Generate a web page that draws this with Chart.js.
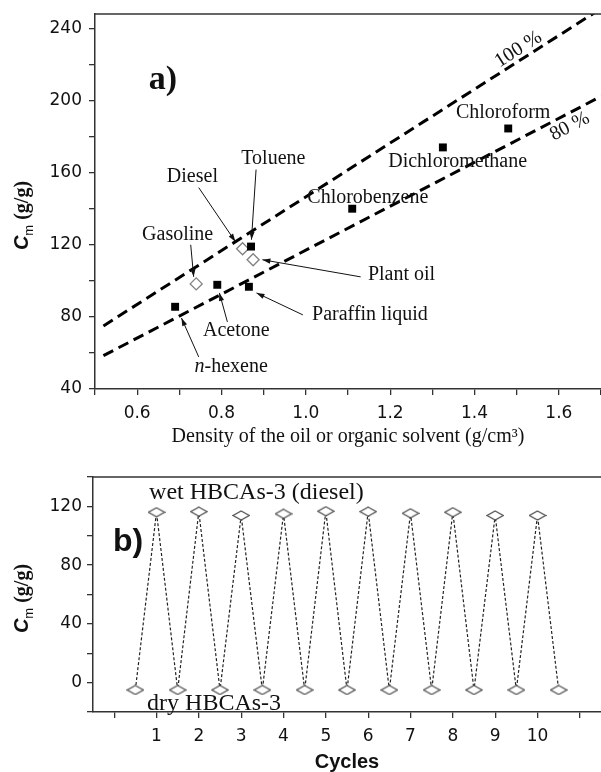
<!DOCTYPE html>
<html>
<head>
<meta charset="utf-8">
<script src="https://cdn.jsdelivr.net/npm/chart.js@4.4.0/dist/chart.umd.min.js"></script>
<style>
html,body{margin:0;padding:0;background:#fff;}
#wrap{position:relative;width:601px;height:772px;}
canvas{position:absolute;left:0;}
#top{top:0;}
#bottom{top:450px;}
</style>
</head>
<body>
<div id="wrap">
<canvas id="top" width="601" height="450"></canvas>
<canvas id="bottom" width="601" height="322"></canvas>
</div>
<script>
// ---- panel a) data
const solventNames = ['n-hexene', 'Acetone', 'Paraffin liquid', 'Toluene', 'Chlorobenzene', 'Dichloromethane', 'Chloroform'];
const solventDensity = [0.69, 0.79, 0.865, 0.87, 1.11, 1.325, 1.48];
const solventCm = [85.6, 97.8, 96.7, 119, 140, 174, 184.5];

const oilNames = ['Gasoline', 'Diesel', 'Plant oil'];
const oilDensity = [0.74, 0.85, 0.875];
const oilCm = [98.3, 117.8, 111.7];

// theoretical lines (end points)
const line100Density = [0.52, 1.70];
const line100Cm = [75, 251];
const line80Density = [0.52, 1.70];
const line80Cm = [58.5, 202.3];

const densityTicks = [0.5, 0.6, 0.7, 0.8, 0.9, 1.0, 1.1, 1.2, 1.3, 1.4, 1.5, 1.6, 1.7];
const densityTickLabels = ['', '0.6', '', '0.8', '', '1.0', '', '1.2', '', '1.4', '', '1.6', ''];
const cmTicksA = [40, 60, 80, 100, 120, 140, 160, 180, 200, 220, 240];
const cmTickLabelsA = ['40', '', '80', '', '120', '', '160', '', '200', '', '240'];

// ---- panel b) data
const cycleX = [0.5, 1, 1.5, 2, 2.5, 3, 3.5, 4, 4.5, 5, 5.5, 6, 6.5, 7, 7.5, 8, 8.5, 9, 9.5, 10, 10.5];
const cycleCm = [-5, 116, -5, 116.4, -5, 113.8, -5, 114.9, -5, 116.7, -5, 116.4, -5, 115.3, -5, 116, -5, 113.8, -5, 113.8, -5];

const cycleTicks = [0, 1, 2, 3, 4, 5, 6, 7, 8, 9, 10, 11];
const cycleTickLabels = ['', '1', '2', '3', '4', '5', '6', '7', '8', '9', '10', ''];
const cmTicksB = [-20, 0, 20, 40, 60, 80, 100, 120, 140];
const cmTickLabelsB = ['', '0', '', '40', '', '80', '', '120', ''];

// annotation labels (data coords) and arrows
const annotA = [
  {text: 'Toluene', at: [0.923, 167.8], from: [0.882, 161.7], to: [0.871, 122.8]},
  {text: 'Diesel', at: [0.731, 157.8], from: [0.746, 151.7], to: [0.833, 121.7]},
  {text: 'Chlorobenzene', at: [1.147, 146.1]},
  {text: 'Gasoline', at: [0.696, 125.6], from: [0.727, 120], to: [0.734, 102.2]},
  {text: 'Plant oil', at: [1.227, 103.3], from: [1.13, 102.2], to: [0.897, 111.7]},
  {text: 'Paraffin liquid', at: [1.152, 81.1], from: [0.993, 81.1], to: [0.883, 93.3]},
  {text: 'Acetone', at: [0.835, 72.2], from: [0.814, 77.2], to: [0.795, 93.3]},
  {text: '-hexene', italic: 'n', at: [0.823, 52.2], from: [0.746, 57.8], to: [0.705, 79.4]},
  {text: 'Dichloromethane', at: [1.36, 166.1]},
  {text: 'Chloroform', at: [1.468, 193.3]}
];

const SERIF = "'Liberation Serif', 'Times New Roman', serif";
const SANS = "'Liberation Sans', Arial, sans-serif";
const INK = '#111';

Chart.defaults.font.family = "'DejaVu Sans', sans-serif";
Chart.defaults.color = INK;

function arrow(ctx, x1, y1, x2, y2) {
  ctx.beginPath();
  ctx.moveTo(x1, y1);
  ctx.lineTo(x2, y2);
  ctx.stroke();
  const a = Math.atan2(y2 - y1, x2 - x1);
  const len = 8, w = 2.6;
  ctx.beginPath();
  ctx.moveTo(x2, y2);
  ctx.lineTo(x2 - len * Math.cos(a) + w * Math.sin(a), y2 - len * Math.sin(a) - w * Math.cos(a));
  ctx.lineTo(x2 - len * Math.cos(a) - w * Math.sin(a), y2 - len * Math.sin(a) + w * Math.cos(a));
  ctx.closePath();
  ctx.fill();
}

function yTitle(ctx, x, y) {
  ctx.save();
  ctx.translate(x, y);
  ctx.rotate(-Math.PI / 2);
  const f1 = "bold italic 20px " + SANS;
  const f2 = "13px " + SANS;
  const f3 = "bold 20px " + SERIF;
  ctx.font = f1; const w1 = ctx.measureText('C').width;
  ctx.font = f2; const w2 = ctx.measureText('m').width;
  ctx.font = f3; const w3 = ctx.measureText(' (g/g)').width;
  let cx = -(w1 + w2 + w3) / 2;
  ctx.fillStyle = INK;
  ctx.textAlign = 'left';
  ctx.textBaseline = 'alphabetic';
  ctx.font = f1; ctx.fillText('C', cx, 7); cx += w1;
  ctx.font = f2; ctx.fillText('m', cx, 12); cx += w2;
  ctx.font = f3; ctx.fillText(' (g/g)', cx, 7);
  ctx.restore();
}

// top border of the frame (the right side is cut off in the figure)
const framePlugin = {
  id: 'frame',
  afterDraw(chart) {
    const {ctx, chartArea: a} = chart;
    ctx.save();
    ctx.strokeStyle = '#333';
    ctx.lineWidth = 1.5;
    ctx.beginPath();
    ctx.moveTo(a.left, a.top);
    ctx.lineTo(a.right, a.top);
    ctx.stroke();
    ctx.restore();
  }
};

function axisSet(values, labels, pad, size) {
  return {
    type: 'linear',
    afterBuildTicks: s => { s.ticks = values.map(v => ({value: v})); },
    afterFit: s => {
      if (s.isHorizontal()) s.height = size; else s.width = size;
      s.paddingLeft = s.paddingRight = s.paddingTop = s.paddingBottom = 0;
    },
    ticks: {
      autoSkip: false,
      maxRotation: 0,
      padding: pad,
      font: {size: 17},
      color: INK,
      callback: (v, i) => labels[i]
    },
    grid: {drawOnChartArea: false, tickLength: 6, color: '#333', lineWidth: 1.3},
    border: {color: '#333', width: 1.5}
  };
}

// ---------- panel a)
const xA = axisSet(densityTicks, densityTickLabels, 8, 61);
xA.min = 0.5; xA.max = 1.7;
const yA = axisSet(cmTicksA, cmTickLabelsA, 7, 95);
yA.min = 40; yA.max = 248;

const notesA = {
  id: 'notesA',
  afterDatasetsDraw(chart) {
    const {ctx, scales: {x, y}} = chart;
    ctx.save();
    ctx.fillStyle = INK;
    ctx.strokeStyle = INK;
    ctx.lineWidth = 1;
    ctx.textBaseline = 'middle';
    annotA.forEach(n => {
      const px = x.getPixelForValue(n.at[0]);
      const py = y.getPixelForValue(n.at[1]);
      if (n.italic) {
        ctx.font = "italic 20px " + SERIF;
        const wi = ctx.measureText(n.italic).width;
        ctx.font = "20px " + SERIF;
        const wt = ctx.measureText(n.text).width;
        ctx.textAlign = 'left';
        ctx.font = "italic 20px " + SERIF;
        ctx.fillText(n.italic, px - (wi + wt) / 2, py);
        ctx.font = "20px " + SERIF;
        ctx.fillText(n.text, px - (wi + wt) / 2 + wi, py);
      } else {
        ctx.font = "20px " + SERIF;
        ctx.textAlign = 'center';
        ctx.fillText(n.text, px, py);
      }
      if (n.from) {
        arrow(ctx, x.getPixelForValue(n.from[0]), y.getPixelForValue(n.from[1]),
          x.getPixelForValue(n.to[0]), y.getPixelForValue(n.to[1]));
      }
    });
    // rotated line labels
    const rot = (dx, dy) => Math.atan2(
      y.getPixelForValue(dy[1]) - y.getPixelForValue(dy[0]),
      x.getPixelForValue(dx[1]) - x.getPixelForValue(dx[0]));
    [['100 %', 1.504, 228.3, rot(line100Density, line100Cm)],
     ['80 %', 1.626, 185.6, rot(line80Density, line80Cm)]].forEach(([t, dx, dy, ang]) => {
      ctx.save();
      ctx.translate(x.getPixelForValue(dx), y.getPixelForValue(dy));
      ctx.rotate(ang);
      ctx.font = "20px " + SERIF;
      ctx.textAlign = 'center';
      ctx.fillText(t, 0, 0);
      ctx.restore();
    });
    // panel letter
    ctx.font = "bold 34px " + SERIF;
    ctx.textAlign = 'center';
    ctx.fillText('a)', x.getPixelForValue(0.661), y.getPixelForValue(211));
    ctx.restore();
  },
  afterDraw(chart) {
    const {ctx, chartArea: a} = chart;
    yTitle(ctx, 21, (a.top + a.bottom) / 2 + 14);
    ctx.save();
    ctx.fillStyle = INK;
    ctx.font = "20px " + SERIF;
    ctx.textAlign = 'center';
    ctx.textBaseline = 'middle';
    ctx.fillText('Density of the oil or organic solvent (g/cm\u00B3)', (a.left + a.right) / 2, a.bottom + 48);
    ctx.restore();
  }
};

new Chart(document.getElementById('top'), {
  type: 'scatter',
  data: {
    datasets: [
      {
        label: '100 %',
        data: line100Density.map((d, i) => ({x: d, y: line100Cm[i]})),
        showLine: true, pointRadius: 0,
        borderColor: '#000', borderWidth: 3, borderDash: [11, 6], clip: 0
      },
      {
        label: '80 %',
        data: line80Density.map((d, i) => ({x: d, y: line80Cm[i]})),
        showLine: true, pointRadius: 0,
        borderColor: '#000', borderWidth: 3, borderDash: [11, 6], clip: 0
      },
      {
        label: 'Organic solvents',
        data: solventDensity.map((d, i) => ({x: d, y: solventCm[i], name: solventNames[i]})),
        pointStyle: 'rect', pointRadius: 5.6,
        backgroundColor: '#000', borderColor: '#000', borderWidth: 0
      },
      {
        label: 'Oils',
        data: oilDensity.map((d, i) => ({x: d, y: oilCm[i], name: oilNames[i]})),
        pointStyle: 'rectRot', pointRadius: 6,
        backgroundColor: '#fff', borderColor: '#808080', borderWidth: 1.3
      }
    ]
  },
  options: {
    responsive: false,
    animation: false,
    layout: {autoPadding: false, padding: {top: 14, left: 0, right: 0, bottom: 0}},
    plugins: {legend: {display: false}, tooltip: {enabled: false}},
    scales: {x: xA, y: yA}
  },
  plugins: [framePlugin, notesA]
});

// ---------- panel b)
function flatDiamond(w, h, color) {
  const c = document.createElement('canvas');
  c.width = w + 2; c.height = h + 2;
  const g = c.getContext('2d');
  g.fillStyle = '#fff';
  g.strokeStyle = color;
  g.lineWidth = 1.2;
  g.beginPath();
  g.moveTo(1 + w / 2, 1);
  g.lineTo(1 + w, 1 + h / 2);
  g.lineTo(1 + w / 2, 1 + h);
  g.lineTo(1, 1 + h / 2);
  g.closePath();
  g.fill();
  g.stroke();
  return c;
}

const xB = axisSet(cycleTicks, cycleTickLabels, 8, 60);
xB.min = -0.5; xB.max = 11.5;
const yB = axisSet(cmTicksB, cmTickLabelsB, 5, 93);
yB.min = -20; yB.max = 140;

const notesB = {
  id: 'notesB',
  afterDatasetsDraw(chart) {
    const {ctx, scales: {x, y}} = chart;
    ctx.save();
    ctx.fillStyle = INK;
    ctx.textAlign = 'center';
    ctx.textBaseline = 'middle';
    ctx.font = "24px " + SERIF;
    ctx.fillText('wet HBCAs-3 (diesel)', x.getPixelForValue(3.36), y.getPixelForValue(129.5));
    ctx.fillText('dry HBCAs-3', x.getPixelForValue(2.36), y.getPixelForValue(-14.2));
    ctx.font = "bold 32px " + SANS;
    ctx.fillText('b)', x.getPixelForValue(0.33), y.getPixelForValue(95.8));
    ctx.restore();
  },
  afterDraw(chart) {
    const {ctx, chartArea: a} = chart;
    yTitle(ctx, 21, (a.top + a.bottom) / 2 + 4);
    ctx.save();
    ctx.fillStyle = INK;
    ctx.font = "bold 20px " + SANS;
    ctx.textAlign = 'center';
    ctx.textBaseline = 'middle';
    ctx.fillText('Cycles', (a.left + a.right) / 2, a.bottom + 50);
    ctx.restore();
  }
};

new Chart(document.getElementById('bottom'), {
  type: 'line',
  data: {
    datasets: [{
      label: 'HBCAs-3 (diesel)',
      data: cycleX.map((c, i) => ({x: c, y: cycleCm[i]})),
      borderColor: '#222', borderWidth: 1.2, borderDash: [3, 2],
      pointStyle: flatDiamond(16, 9, '#555'),
      pointRadius: 6, tension: 0, fill: false, clip: 0
    }]
  },
  options: {
    responsive: false,
    animation: false,
    layout: {autoPadding: false, padding: {top: 27, left: 0, right: 0, bottom: 0}},
    plugins: {legend: {display: false}, tooltip: {enabled: false}},
    scales: {x: xB, y: yB}
  },
  plugins: [framePlugin, notesB]
});
</script>
</body>
</html>
